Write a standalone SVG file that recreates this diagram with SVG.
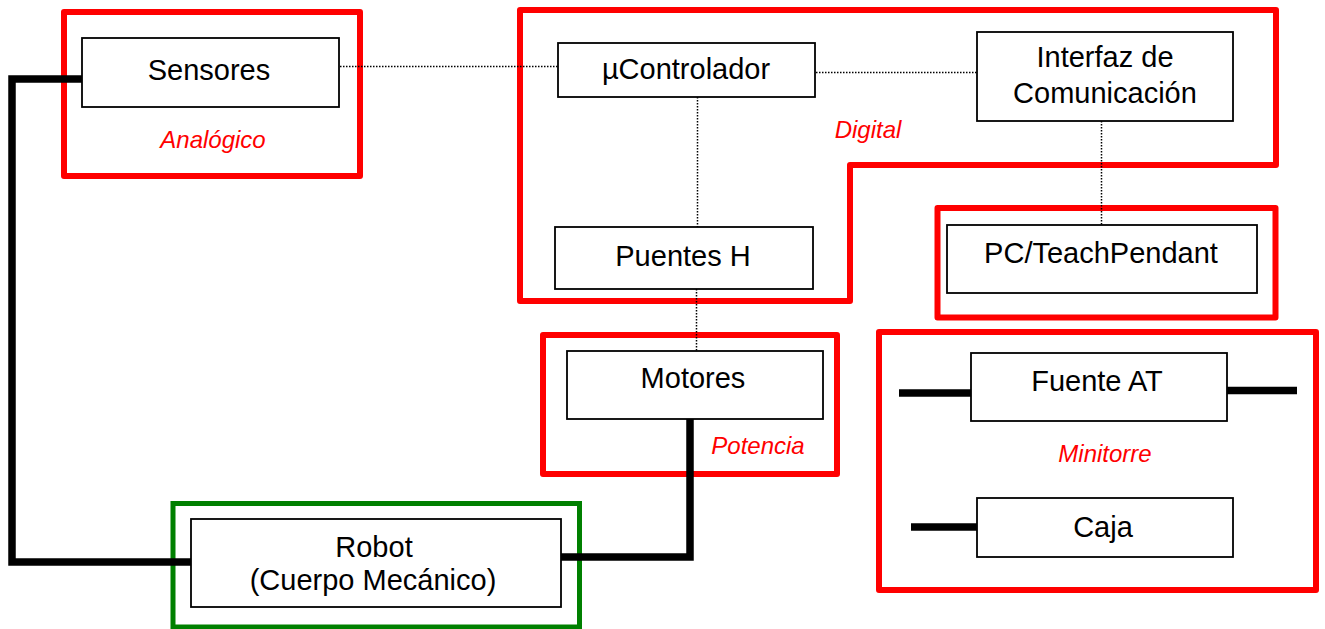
<svg xmlns="http://www.w3.org/2000/svg" width="1325" height="629" viewBox="0 0 1325 629">
<style>
.bg{fill:#fff}
.grp{fill:none;stroke:#ff0000;stroke-width:6;stroke-linejoin:round}
.grn{fill:none;stroke:#008000;stroke-width:5}
.box{fill:#fff;stroke:#000;stroke-width:1.8}
.t{font-family:"Liberation Sans",Arial,sans-serif;font-size:29px;fill:#000;text-anchor:middle}
.lbl{font-family:"Liberation Sans",Arial,sans-serif;font-size:24px;font-style:italic;fill:#ff0000;text-anchor:middle}
.dot{fill:none;stroke:#000;stroke-width:1.5;stroke-dasharray:1.5 1.5}
.thick{fill:none;stroke:#000;stroke-width:7.5;stroke-linejoin:miter}
</style>
<rect class="bg" x="0" y="0" width="1325" height="629"/>

<g id="groups">
  <rect id="g-analogico" class="grp" x="64" y="12" width="296" height="164"/>
  <polygon id="g-digital" class="grp" points="520,10 1276,10 1276,165 850,165 850,301 520,301"/>
  <rect id="g-pc" class="grp" x="937.5" y="208" width="338" height="109.5"/>
  <rect id="g-potencia" class="grp" x="543" y="335" width="294" height="139"/>
  <rect id="g-minitorre" class="grp" x="879" y="332" width="437" height="258"/>
  <rect id="g-robot" class="grn" x="173" y="503.5" width="406.5" height="123.5"/>
  <text class="lbl" x="213" y="148">Analógico</text>
  <text class="lbl" x="868" y="138">Digital</text>
  <text class="lbl" x="758" y="454">Potencia</text>
  <text class="lbl" x="1105" y="462">Minitorre</text>
</g>

<g id="connectors">
  <line class="dot" x1="340" y1="66.5" x2="558" y2="66.5"/>
  <line class="dot" x1="816" y1="72.5" x2="977" y2="72.5"/>
  <line class="dot" x1="697.5" y1="97" x2="697.5" y2="227"/>
  <line class="dot" x1="696.5" y1="289" x2="696.5" y2="351"/>
  <line class="dot" x1="1101.5" y1="121" x2="1101.5" y2="225"/>
  <polyline class="thick" points="82,79 12,79 12,562 191,562"/>
  <polyline class="thick" points="561,557 690,557 690,415"/>
  <line class="thick" x1="899" y1="393" x2="972" y2="393"/>
  <line class="thick" x1="1223" y1="390.5" x2="1297" y2="390.5"/>
  <line class="thick" x1="911" y1="527" x2="977" y2="527"/>
</g>

<g id="n-sensores">
  <rect class="box" x="82" y="38" width="257" height="69"/>
  <text class="t" x="209" y="80">Sensores</text>
</g>
<g id="n-ucontrolador">
  <rect class="box" x="558" y="43" width="257" height="54"/>
  <text class="t" x="686" y="79">µControlador</text>
</g>
<g id="n-interfaz">
  <rect class="box" x="977" y="32" width="256" height="89"/>
  <text class="t" x="1105" y="67">Interfaz de</text>
  <text class="t" x="1105" y="103">Comunicación</text>
</g>
<g id="n-puentes">
  <rect class="box" x="555" y="227" width="258" height="62"/>
  <text class="t" x="683" y="266">Puentes H</text>
</g>
<g id="n-pc">
  <rect class="box" x="947" y="225" width="310" height="68"/>
  <text class="t" x="1101" y="263">PC/TeachPendant</text>
</g>
<g id="n-motores">
  <rect class="box" x="567" y="351" width="256" height="68"/>
  <text class="t" x="693" y="388">Motores</text>
</g>
<g id="n-fuente">
  <rect class="box" x="971" y="353" width="256" height="68"/>
  <text class="t" x="1097" y="391">Fuente AT</text>
</g>
<g id="n-caja">
  <rect class="box" x="977" y="498" width="256" height="59"/>
  <text class="t" x="1103" y="537">Caja</text>
</g>
<g id="n-robot">
  <rect class="box" x="191" y="519" width="370" height="88"/>
  <text class="t" x="374" y="557">Robot</text>
  <text class="t" x="373" y="590">(Cuerpo Mecánico)</text>
</g>
</svg>
